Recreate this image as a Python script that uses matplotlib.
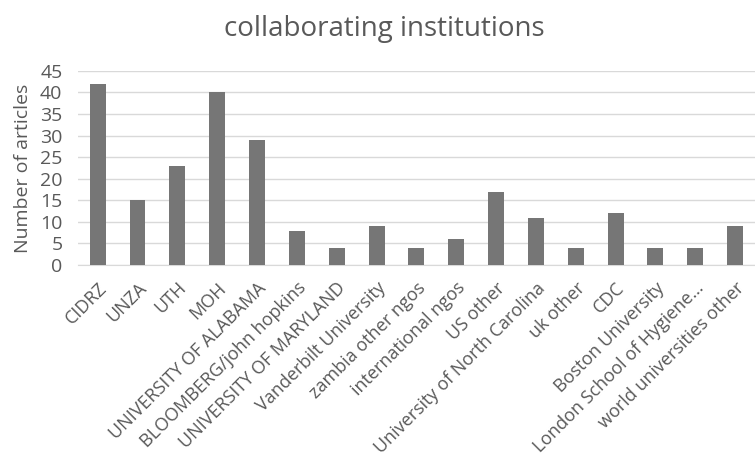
import matplotlib
matplotlib.use("Agg")
import matplotlib.pyplot as plt
import numpy as np

plt.rcParams['font.family'] = ['Open Sans', 'DejaVu Sans']

institutions = ['CIDRZ', 'UNZA', 'UTH', 'MOH', 'UNIVERSITY OF ALABAMA',
                'BLOOMBERG/john hopkins', 'UNIVERSITY OF MARYLAND',
                'Vanderbilt University', 'zambia other ngos', 'international ngos',
                'US other', 'University of North Carolina', 'uk other', 'CDC',
                'Boston University', 'London School of Hygiene\u2026',
                'world universities other']
articles = [42, 15, 23, 40, 29, 8, 4, 9, 4, 6, 17, 11, 4, 12, 4, 4, 9]

text_color = '#595959'

fig = plt.figure(figsize=(7.55, 4.57), dpi=100)
ax = fig.add_axes([0.103, 0.42, 0.897, 0.425])

x = np.arange(len(institutions))
ax.bar(x, articles, width=0.4, color='#767676', zorder=3)

ax.set_xlim(-0.5, len(institutions) - 0.5)
ax.set_ylim(0, 45)
ax.set_yticks(np.arange(0, 46, 5))
ax.yaxis.grid(True, color='#d9d9d9', linewidth=1, zorder=0)
for s in ['top', 'right', 'left']:
    ax.spines[s].set_visible(False)
ax.spines['bottom'].set_color('#d9d9d9')
ax.tick_params(axis='both', length=0, colors=text_color)
ax.tick_params(axis='y', labelsize=14, pad=11)
ax.tick_params(axis='x', labelsize=13, pad=10)
ax.set_xticks(x)
ax.set_xticklabels(institutions, rotation=45, ha='right', rotation_mode='anchor')

ax.set_ylabel('Number of articles', fontsize=14, color=text_color, labelpad=6)
fig.text(0.509, 0.937, 'collaborating institutions', ha='center', va='center',
         fontsize=20, color=text_color)

plt.savefig('out.png', dpi=100)
